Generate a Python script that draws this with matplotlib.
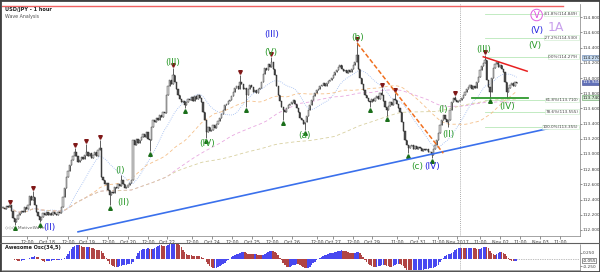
import matplotlib
matplotlib.use("Agg")
import matplotlib.pyplot as plt
import numpy as np
import pandas as pd

# ---------------- data ----------------
closes = [
 112.29,112.27,112.31,112.30,112.33,112.25,112.16,112.11,112.15,112.19,
 112.22,112.25,112.24,112.30,112.28,112.33,112.45,112.40,112.43,112.33,
 112.24,112.18,112.13,112.17,112.22,112.20,112.23,112.19,112.22,112.20,
 112.24,112.21,112.19,112.23,112.22,112.30,112.43,112.55,112.70,112.78,
 112.85,112.92,112.97,113.03,112.98,112.90,112.92,112.96,112.93,112.99,
 113.03,112.97,113.01,112.95,112.99,113.02,112.98,113.05,113.08,112.70,
 112.66,112.60,112.62,112.52,112.46,112.50,112.48,112.56,112.55,112.60,
 112.58,112.66,112.60,112.55,112.57,112.59,112.62,112.66,113.18,113.12,
 113.20,113.15,113.18,113.22,113.26,113.23,113.29,113.20,113.18,113.35,
 113.45,113.42,113.48,113.45,113.51,113.49,113.55,113.54,113.78,113.90,
 113.97,113.92,114.04,113.95,113.85,113.78,113.72,113.68,113.70,113.64,
 113.68,113.73,113.71,113.75,113.70,113.76,113.72,113.78,113.74,113.68,
 113.55,113.45,113.29,113.35,113.30,113.32,113.38,113.34,113.40,113.44,
 113.47,113.52,113.58,113.64,113.66,113.70,113.71,113.76,113.82,113.87,
 113.90,113.86,113.95,113.92,113.85,113.87,113.78,113.86,113.91,113.88,
 113.82,113.84,113.80,113.85,113.87,113.95,114.05,114.13,114.10,114.18,
 114.15,114.21,114.12,114.04,113.90,113.78,113.70,113.62,113.58,113.55,
 113.60,113.64,113.66,113.69,113.71,113.66,113.61,113.55,113.47,113.45,
 113.40,113.42,113.50,113.58,113.65,113.71,113.76,113.80,113.84,113.86,
 113.90,113.91,113.93,113.90,113.94,113.96,113.97,114.00,114.04,114.08,
 114.10,114.14,114.17,114.12,114.09,114.11,114.06,114.10,114.08,114.12,
 114.17,114.21,114.30,114.12,114.00,113.92,113.84,113.78,113.74,113.70,
 113.68,113.72,113.70,113.74,113.76,113.72,113.80,113.78,113.70,113.62,
 113.58,113.63,113.68,113.65,113.73,113.71,113.66,113.60,113.55,113.42,
 113.30,113.18,113.12,113.08,113.10,113.12,113.07,113.10,113.06,113.09,
 113.08,113.04,113.07,113.05,113.06,113.02,113.03,112.99,113.06,113.12,
 113.18,113.28,113.38,113.45,113.51,113.46,113.42,113.45,113.58,113.68,
 113.74,113.71,113.68,113.70,113.71,113.74,113.78,113.82,113.85,113.88,
 113.91,113.86,113.90,113.87,113.95,114.02,114.11,114.16,114.20,114.24,
 113.97,113.88,113.82,114.00,114.13,114.18,114.21,114.15,114.17,114.12,
 114.08,113.95,113.82,113.87,113.91,113.93,113.90,113.95,113.94,
]
wick_highs = {18: 112.51, 43: 113.08, 50: 113.13, 58: 113.18, 71: 112.72,
              102: 114.13, 142: 114.04, 161: 114.28, 212: 114.47, 227: 113.87,
              235: 113.80, 271: 113.76, 289: 114.30}
wick_lows = {7: 112.07, 22: 112.10, 64: 112.33, 88: 113.04, 109: 113.61,
             122: 113.21, 146: 113.62, 168: 113.45, 181: 113.32, 220: 113.62,
             230: 113.50, 243: 113.01, 257: 112.95, 267: 113.36, 292: 113.74,
             302: 113.74}
top_fractals = [4, 18, 43, 50, 58, 102, 142, 161, 212, 227, 235, 271, 289]
bottom_fractals = [7, 22, 64, 88, 109, 122, 146, 168, 181, 220, 230, 243, 257, 292]

time_tick_labels = ["12:00", "Oct 18", "12:00", "Oct 19", "12:00", "Oct 20", "12:00",
                    "Oct 22", "12:00", "Oct 24", "12:00", "Oct 25", "12:00", "Oct 26",
                    "12:00", "Oct 27", "12:00", "Oct 29", "11:00", "Oct 31", "11:00",
                    "Nov 2017", "11:00", "Nov 02", "11:00", "Nov 03", "11:00"]
time_tick_pos = [14.4, 26.4, 39, 50.4, 63, 75, 87, 98.4, 113.4, 125.4, 137.4, 149.4,
                 161.4, 173.4, 188.4, 198, 210, 221.4, 236.4, 249, 261, 272.4, 286.2,
                 298.2, 310.2, 322.2, 334.2]
price_ticks = [112.0, 112.2, 112.4, 112.6, 112.8, 113.0, 113.2, 113.4, 113.6,
               113.8, 114.0, 114.2, 114.4, 114.6, 114.8]

fib_levels = [114.849, 114.530, 114.279, 113.710, 113.555, 113.355]
fib_names = ["-61.8%", "-27.2%", "0.0%", "61.8%", "78.6%", "100.0%"]

trend_x = [45, 328]
trend_y = [111.975, 113.34]
orange_x = [212.4, 264]
orange_y = [114.46, 113.01]
red_x = [288, 314.3]
red_y = [114.28, 114.09]
green_x = [281.3, 315]
green_y = [113.74, 113.74]

GREEN = "#2a9a2a"
BLUE = "#2424e0"
wave_labels = [
    ("(III)", 102, 114.20, GREEN), ("(III)", 161.4, 114.57, BLUE),
    ("(V)", 160.8, 114.33, GREEN), ("(b)", 212.4, 114.54, GREEN),
    ("(IV)", 122.4, 113.14, GREEN), ("(a)", 180.6, 113.24, GREEN),
    ("(c)", 248.4, 112.83, GREEN), ("(IV)", 257.4, 112.83, BLUE),
    ("(I)", 264, 113.58, GREEN), ("(II)", 267, 113.25, GREEN),
    ("(III)", 288, 114.37, GREEN), ("(IV)", 302.3, 113.62, GREEN),
    ("(V)", 319, 114.43, GREEN), ("(V)", 320, 114.63, BLUE),
    ("(I)", 70, 112.78, GREEN), ("(II)", 72, 112.36, GREEN),
    ("(II)", 28, 112.03, BLUE),
]

# ---------------- derived ----------------
closes = np.array(closes)
n = len(closes)
x = np.arange(n)
opens = np.concatenate([[closes[0]], closes[:-1]])
highs = np.maximum(opens, closes)
lows = np.minimum(opens, closes)
for k, v in wick_highs.items():
    highs[k] = v
for k, v in wick_lows.items():
    lows[k] = v

s = pd.Series(closes)
ma_fast = s.rolling(20, min_periods=1).mean()
ma_mid = s.rolling(50, min_periods=1).mean()
ma_100 = s.rolling(100, min_periods=1).mean()
ma_200 = s.rolling(200, min_periods=1).mean()

median = pd.Series((highs + lows) / 2)
ao = (median.rolling(5, min_periods=1).mean() - median.rolling(34, min_periods=1).mean()).values

# ---------------- figure ----------------
W, H = 600, 272
fig = plt.figure(figsize=(6, 2.72), dpi=100)
fig.patch.set_facecolor("white")

def fx(px):
    return px / W

def fy(py):
    return 1 - py / H

ax = fig.add_axes([fx(2), fy(236), fx(580) - fx(2), fy(4) - fy(236)])
ao_ax = fig.add_axes([fx(2), fy(270), fx(580) - fx(2), fy(244) - fy(270)], sharex=ax)

XMIN, XMAX = -0.6, 346
ax.set_xlim(XMIN, XMAX)
ax.set_ylim(111.92, 114.975)

# moving averages
ax.plot(x, ma_fast, color="#9ab8f0", lw=0.6, ls=(0, (1, 1.5)), zorder=2)
ax.plot(x, ma_mid, color="#f5c08a", lw=0.6, ls=(0, (4, 3)), zorder=2)
ax.plot(x, ma_100, color="#e8a8e0", lw=0.6, ls=(0, (4, 3)), zorder=2)
ax.plot(x, ma_200, color="#d8d0a0", lw=0.6, ls=(0, (4, 3)), zorder=2)

# candles
up = closes >= opens
body_lo = np.minimum(opens, closes)
ax.vlines(x, lows, highs, color="#202020", lw=0.5, zorder=3)
body_h = np.maximum(np.abs(closes - opens), 0.006)
ax.bar(x[up], body_h[up], bottom=body_lo[up], width=0.75,
       color="#d8d8d8", edgecolor="#303030", linewidth=0.3, zorder=4)
ax.bar(x[~up], body_h[~up], bottom=body_lo[~up], width=0.75,
       color="#505050", edgecolor="#202020", linewidth=0.3, zorder=4)

# fractal markers
ax.plot(top_fractals, highs[top_fractals] + 0.04, ls="none", marker="v", ms=2.6,
        color="#801818", zorder=5)
ax.plot(bottom_fractals, lows[bottom_fractals] - 0.04, ls="none", marker="^", ms=2.6,
        color="#1a6e1a", zorder=5)

# drawn lines
ax.plot(trend_x, trend_y, color="#3a70ec", lw=1.2, zorder=6)
ax.plot(orange_x, orange_y, color="#f07020", lw=1.1, ls=(0, (3, 1.5)), zorder=6)
ax.plot(red_x, red_y, color="#e82020", lw=1.1, zorder=6)
ax.plot(green_x, green_y, color="#2e9a2e", lw=1.3, zorder=6)
ax.plot([XMIN, 336], [114.955, 114.955], color="#f06060", lw=1.0, zorder=6)

# fib levels
for lv, nm in zip(fib_levels, fib_names):
    ax.plot([289, XMAX], [lv, lv], color="#b8e8b8", lw=0.6, zorder=1)
    ax.text(XMAX - 1, lv, f"{nm}({lv:.3f})", fontsize=3.0, color="#404040",
            ha="right", va="center", zorder=7,
            bbox=dict(boxstyle="square,pad=0.1", fc="white", ec="#c8e8c8", lw=0.4))

# period separator
ax.axvline(274, color="#909090", lw=0.6, ls=(0, (1, 1.5)), zorder=1)
ao_ax.axvline(274, color="#909090", lw=0.6, ls=(0, (1, 1.5)), zorder=1)

# wave labels
for t, lx, ly, c in wave_labels:
    ax.text(lx, ly, t, color=c, fontsize=6.5, ha="center", va="center", zorder=8)
ax.text(320, 114.83, "V", color="#e040e0", fontsize=6, ha="center", va="center", zorder=8,
        bbox=dict(boxstyle="circle,pad=0.15", fc="none", ec="#e060e0", lw=0.7))
ax.text(331.7, 114.67, "1A", color="#c8a0ec", fontsize=9, ha="center", va="center", zorder=8)

# titles
ax.text(0.006, 0.985, "USD/JPY - 1 hour", transform=ax.transAxes, fontsize=3.6,
        fontweight="bold", color="#202020", va="top", ha="left", zorder=9)
ax.text(0.006, 0.955, "Wave Analysis", transform=ax.transAxes, fontsize=3.4,
        color="#505050", va="top", ha="left", zorder=9)
ax.text(0.006, 0.03, "\u25c7\u25c7\u25c7  MotiveWave", transform=ax.transAxes, fontsize=3.2,
        color="#606060", va="bottom", ha="left", zorder=9)

# axes styling
for a in (ax, ao_ax):
    for sp in ("top", "left"):
        a.spines[sp].set_visible(False)
    a.spines["right"].set_color("#808080")
    a.spines["right"].set_linestyle((0, (1, 1)))
    a.spines["right"].set_linewidth(0.5)
    a.spines["bottom"].set_color("#808080")
    a.spines["bottom"].set_linewidth(0.5)

ax.yaxis.tick_right()
ax.set_yticks(price_ticks)
ax.set_yticklabels([f"{p:.3f}" for p in price_ticks])
ax.tick_params(axis="y", labelsize=3.1, length=1.5, width=0.4, pad=0.5, colors="#404040")
ax.set_xticks(time_tick_pos)
ax.set_xticklabels(time_tick_labels)
ax.tick_params(axis="x", labelsize=3.4, length=2, width=0.4, pad=1, colors="#404040")

# current price boxes
box_kw = dict(fontsize=3.1, va="center", ha="left")
ax.text(1.004, 114.27, "114.270", transform=ax.get_yaxis_transform(), color="#202020",
        bbox=dict(boxstyle="square,pad=0.1", fc="#c8dcf0", ec="#6080b0", lw=0.4), **box_kw)
ax.text(1.004, 113.944, "113.944", transform=ax.get_yaxis_transform(), color="white",
        bbox=dict(boxstyle="square,pad=0.1", fc="#6070b8", ec="#404890", lw=0.4), **box_kw)
ax.text(1.004, 113.74, "113.740", transform=ax.get_yaxis_transform(), color="#202020",
        bbox=dict(boxstyle="square,pad=0.1", fc="#d8f0d8", ec="#60a060", lw=0.4), **box_kw)

# awesome oscillator
ao_col = ["#4848f0" if (i > 0 and ao[i] >= ao[i - 1]) else "#b04444" for i in range(n)]
ao_ax.bar(x, ao, width=0.85, color=ao_col, linewidth=0, zorder=3)
ao_ax.plot([n - 1, XMAX], [0, 0], color="#808080", lw=0.5, ls=(0, (1, 1.5)))
ao_ax.set_ylim(-0.40, 0.58)
ao_ax.yaxis.tick_right()
ao_ax.set_yticks([-0.25, 0.25])
ao_ax.set_yticklabels(["-0.250", "0.250"])
ao_ax.tick_params(axis="y", labelsize=3.1, length=1.5, width=0.4, pad=0.5, colors="#404040")
ao_ax.tick_params(axis="x", bottom=False, labelbottom=False)
ao_ax.text(0.006, 0.96, "Awesome Osc(34,5)", transform=ao_ax.transAxes, fontsize=3.6,
           fontweight="bold", color="#202020", va="top", ha="left")
ao_ax.text(1.004, ao[-1], f"{ao[-1]:.3f}", transform=ao_ax.get_yaxis_transform(),
           fontsize=3.1, color="#202020", va="center", ha="left",
           bbox=dict(boxstyle="square,pad=0.1", fc="white", ec="#404040", lw=0.4))

# separator between panels & frame
fig.add_artist(plt.Line2D([0, 1], [fy(243), fy(243)], color="#606060", lw=0.8))
fig.add_artist(plt.Rectangle((0, 0), 1, 1, transform=fig.transFigure, fill=False,
                             ec="#404040", lw=2))

fig.savefig("out.png", dpi=100)
